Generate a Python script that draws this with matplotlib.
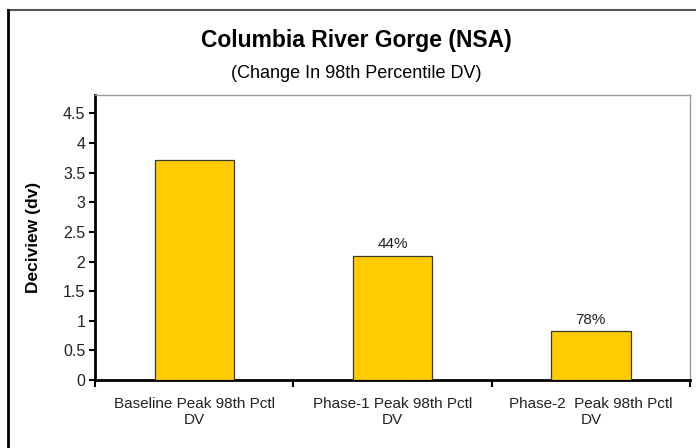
import matplotlib
matplotlib.use("Agg")
import matplotlib.pyplot as plt
from matplotlib.lines import Line2D
import numpy as np

plt.rcParams['font.family'] = ['Liberation Sans', 'DejaVu Sans']

categories = ["Baseline Peak 98th Pctl\nDV", "Phase-1 Peak 98th Pctl\nDV", "Phase-2  Peak 98th Pctl\nDV"]
deciview = [3.72, 2.10, 0.82]
pct_labels = ["", "44%", "78%"]
yticks = [0, 0.5, 1, 1.5, 2, 2.5, 3, 3.5, 4, 4.5]

fig = plt.figure(figsize=(6.96, 4.48), dpi=100)
ax = fig.add_axes([0.1365, 0.1518, 0.8549, 0.636])

x = np.arange(len(categories))
bars = ax.bar(x, deciview, width=0.4, color="#FFCC00", edgecolor="#3a3a2a", linewidth=0.9, zorder=3)

for b, lab in zip(bars, pct_labels):
    if lab:
        ax.text(b.get_x() + b.get_width() / 2, b.get_height() + 0.08, lab,
                ha="center", va="bottom", fontsize=11, color="#222222")

ax.set_xlim(-0.5, 2.5)
ax.set_ylim(0, 4.81)
ax.set_yticks(yticks)
ax.set_yticklabels([f"{t:g}" for t in yticks], fontsize=11.5, color="#222222")
ax.set_xticks(x)
ax.set_xticklabels(categories, fontsize=11, color="#222222", linespacing=1.2)
ax.tick_params(axis="x", which="major", length=0, pad=12)
ax.set_xticks([-0.5, 0.5, 1.5, 2.5], minor=True)
ax.tick_params(axis="x", which="minor", length=5, width=1.5, direction="out")
ax.tick_params(axis="y", length=4, width=1.5, direction="out", pad=3)

ax.spines["left"].set_linewidth(2)
ax.spines["bottom"].set_linewidth(2)
ax.spines["top"].set_color("#999999")
ax.spines["right"].set_color("#999999")
ax.spines["top"].set_linewidth(1)
ax.spines["right"].set_linewidth(1)

ax.set_ylabel("Deciview (dv)", fontsize=12.5, fontweight="bold", labelpad=16)

fig.text(0.512, 0.909, "Columbia River Gorge (NSA)", ha="center", va="center",
         fontsize=16.5, fontweight="bold")
fig.text(0.512, 0.836, "(Change In 98th Percentile DV)", ha="center", va="center",
         fontsize=13)

# outer frame of the chart area
fig.add_artist(Line2D([8 / 696, 1], [1 - 10 / 448, 1 - 10 / 448], transform=fig.transFigure,
                      color="#555555", linewidth=1.5))
fig.add_artist(Line2D([8 / 696, 8 / 696], [0, 1 - 10 / 448], transform=fig.transFigure,
                      color="black", linewidth=2))

fig.savefig("out.png", dpi=100)
